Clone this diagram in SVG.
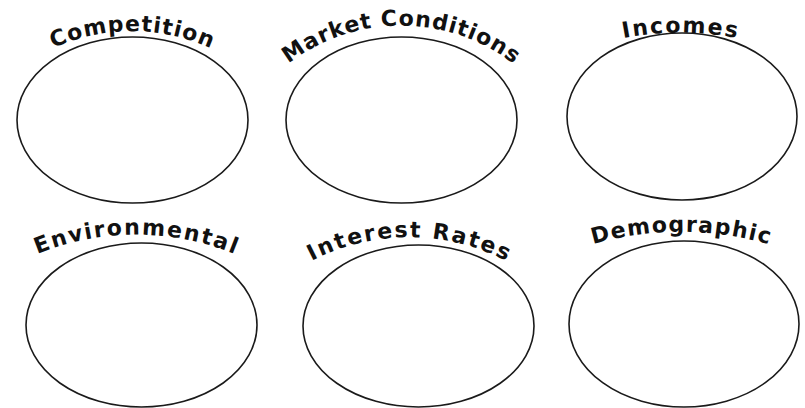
<svg xmlns="http://www.w3.org/2000/svg" xmlns:xlink="http://www.w3.org/1999/xlink" width="805" height="408" viewBox="0 0 805 408">
  <style>
    .bubble { fill: #ffffff; stroke: #1a1a1a; stroke-width: 1.6; }
    .label { font-family: "DejaVu Sans", "Liberation Sans", sans-serif; font-weight: bold; font-size: 22px; fill: #111111; }
  </style>
  <defs>
    <!-- arcs that carry the curved headings -->
    <path id="arc-competition" d="M 40 55 A 190 190 0 0 1 224 55" fill="none"/>
    <path id="arc-market" d="M 271 79 A 185 185 0 0 1 531 79" fill="none"/>
    <path id="arc-incomes" d="M 610 41 A 300 300 0 0 1 750 41" fill="none"/>
    <path id="arc-environmental" d="M 26 259 A 260 260 0 0 1 246 259" fill="none"/>
    <path id="arc-interest" d="M 299 268 A 212 212 0 0 1 519 268" fill="none"/>
    <path id="arc-demographic" d="M 581 248 A 318 318 0 0 1 781 248" fill="none"/>
  </defs>
  <rect width="805" height="408" fill="#ffffff"/>

  <g id="competition">
    <ellipse class="bubble" cx="132.5" cy="120" rx="115.5" ry="83"/>
    <text class="label" text-anchor="middle" textLength="162" lengthAdjust="spacing"><textPath xlink:href="#arc-competition" startOffset="50%">Competition</textPath></text>
  </g>

  <g id="market-conditions">
    <ellipse class="bubble" cx="401.5" cy="120" rx="115.5" ry="83"/>
    <text class="label" text-anchor="middle" textLength="242" lengthAdjust="spacing"><textPath xlink:href="#arc-market" startOffset="50%">Market Conditions</textPath></text>
  </g>

  <g id="incomes">
    <ellipse class="bubble" cx="682" cy="116.5" rx="115" ry="83.5"/>
    <text class="label" text-anchor="middle" textLength="114" lengthAdjust="spacing"><textPath xlink:href="#arc-incomes" startOffset="50%">Incomes</textPath></text>
  </g>

  <g id="environmental">
    <ellipse class="bubble" cx="141.5" cy="325" rx="115.5" ry="82"/>
    <text class="label" text-anchor="middle" textLength="202" lengthAdjust="spacing"><textPath xlink:href="#arc-environmental" startOffset="50%">Environmental</textPath></text>
  </g>

  <g id="interest-rates">
    <ellipse class="bubble" cx="418.5" cy="326" rx="115.5" ry="81"/>
    <text class="label" text-anchor="middle" textLength="202" lengthAdjust="spacing"><textPath xlink:href="#arc-interest" startOffset="50%">Interest Rates</textPath></text>
  </g>

  <g id="demographic">
    <ellipse class="bubble" cx="684" cy="324" rx="115" ry="83"/>
    <text class="label" text-anchor="middle" textLength="178" lengthAdjust="spacing"><textPath xlink:href="#arc-demographic" startOffset="50%">Demographic</textPath></text>
  </g>

  <g id="connectors"/>
</svg>
